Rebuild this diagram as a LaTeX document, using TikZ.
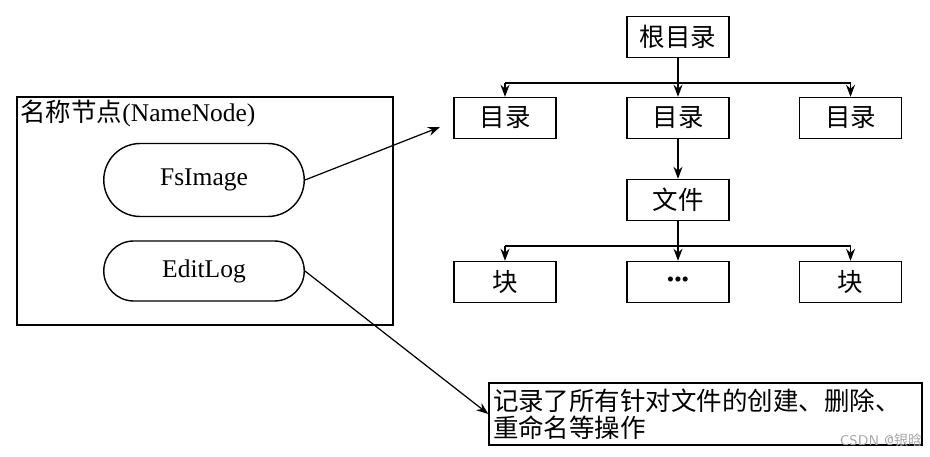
\documentclass[tikz,border=0pt]{standalone}
\usepackage{fontspec}
\setmainfont{Liberation Serif}
\newfontfamily\cjk{Noto Sans CJK SC}
\usetikzlibrary{arrows.meta,shapes.misc}

\begin{document}
\begin{tikzpicture}[
  font=\fontsize{14.5pt}{15.5pt}\selectfont,
  line width=0.8pt,
  box/.style={rectangle,draw,minimum width=2.04cm,minimum height=0.82cm,inner sep=1pt},
  pill/.style={rounded rectangle,draw,minimum width=4.08cm,inner sep=1pt},
  arrow/.style={-{Stealth[length=2.4mm,width=1.8mm]},line width=0.7pt}
]
\useasboundingbox (0,0) rectangle (18.6,9.12);

% name node
\node[draw,minimum width=7.52cm,minimum height=4.56cm] (nn) at (4.10,4.90) {};
\node[anchor=north west,inner sep=2pt] (nnlabel) at (nn.north west) {{\cjk 名称节点}(NameNode)};
\node[pill,minimum height=1.46cm] (fsimage) at (4.08,5.52) {FsImage};
\node[pill,minimum height=1.20cm] (editlog) at (4.08,3.70) {EditLog};

% directory tree
\node[box] (root) at (13.56,8.38) {\cjk 根目录};
\node[box] (dirL) at (10.10,6.76) {\cjk 目录};
\node[box] (dirM) at (13.56,6.76) {\cjk 目录};
\node[box] (dirR) at (17.01,6.76) {\cjk 目录};
\node[box] (file) at (13.56,5.12) {\cjk 文件};
\node[box] (blkL) at (10.10,3.48) {\cjk 块};
\node[box] (blkM) at (13.56,3.48) {\fontsize{12pt}{12pt}\selectfont\textbullet\textbullet\textbullet};
\node[box] (blkR) at (17.01,3.48) {\cjk 块};

\coordinate (bus1) at (0,7.46);
\coordinate (bus2) at (0,4.20);
\draw (root) -- (root.south|-bus1);
\draw (dirL.north|-bus1) -- (dirR.north|-bus1);
\foreach \d in {dirL,dirM,dirR}
  \draw[arrow] (\d.north|-bus1) -- (\d);
\draw[arrow] (dirM) -- (file);
\draw (file) -- (file.south|-bus2);
\draw (blkL.north|-bus2) -- (blkR.north|-bus2);
\foreach \b in {blkL,blkM,blkR}
  \draw[arrow] (\b.north|-bus2) -- (\b);

% note
\node[draw,minimum width=8.66cm,minimum height=1.24cm,text width=8.5cm,align=left,inner xsep=2pt,inner ysep=1pt] (note) at (14.11,0.84)
  {\cjk 记录了所有针对文件的创建、删除、\\重命名等操作};
\node[text=gray!70,font=\sffamily\fontsize{8pt}{9pt}\selectfont] (mark) at (17.62,0.32) {CSDN @{\cjk 银晗}};

\coordinate (fsend) at (8.80,6.58);
\draw[arrow] (fsimage.east) -- (fsend);
\draw[arrow] (editlog.east) -- (note.west);
\end{tikzpicture}
\end{document}
